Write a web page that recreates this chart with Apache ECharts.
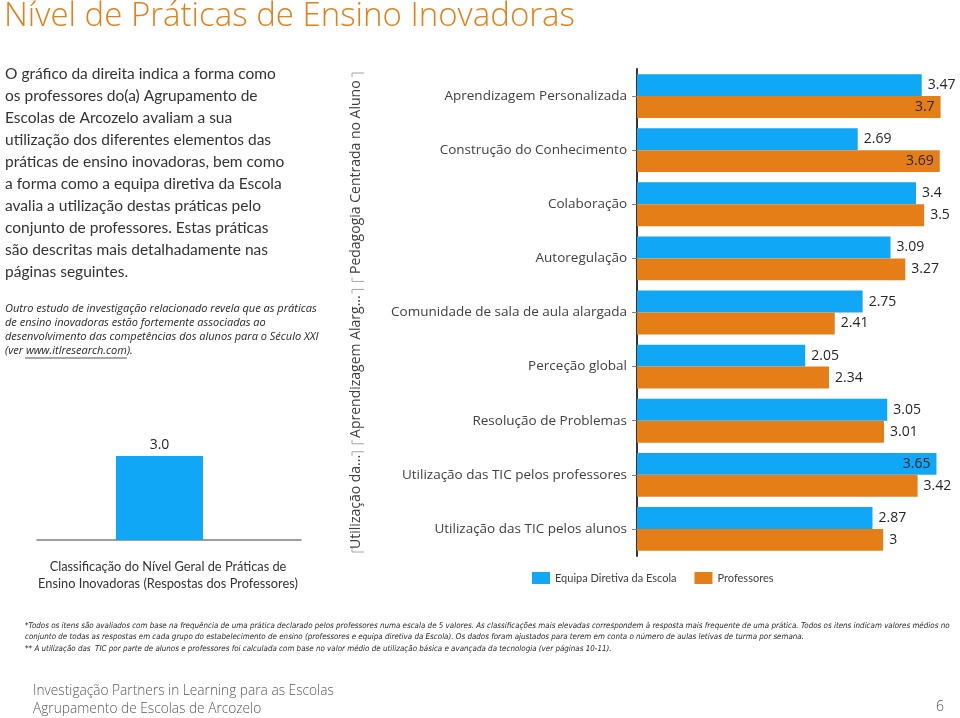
<!DOCTYPE html>
<html>
<head>
<meta charset="utf-8">
<script src="https://cdn.jsdelivr.net/npm/echarts@6/dist/echarts.min.js"></script>
<style>
html,body{margin:0;padding:0;background:#fff;}
#chart{width:960px;height:718px;}
</style>
</head>
<body>
<div id="chart"></div>
<script>
// ---- Data ----
const categories = [
  'Aprendizagem Personalizada',
  'Construção do Conhecimento',
  'Colaboração',
  'Autoregulação',
  'Comunidade de sala de aula alargada',
  'Perceção global',
  'Resolução de Problemas',
  'Utilização das TIC pelos professores',
  'Utilização das TIC pelos alunos'
];
const seriesNames = ['Equipa Diretiva da Escola', 'Professores'];
const equipaValues = [3.47, 2.69, 3.4, 3.09, 2.75, 2.05, 3.05, 3.65, 2.87];
const professoresValues = [3.7, 3.69, 3.5, 3.27, 2.41, 2.34, 3.01, 3.42, 3];
const groupNames = ['Pedagogia Centrada no Aluno', 'Aprendizagem Alarg...', 'Utilização da...'];
const groupFirst = [0, 4, 7];
const groupLast = [3, 6, 8];
const overallCategory = [''];
const overallValue = [3.0];

const BLUE = '#0FA7F6';
const ORANGE = '#E67E17';
const FONT = '"Open Sans", "Noto Sans", sans-serif';
const FONT2 = 'Lato, "Open Sans", sans-serif';

function items(arr) {
  return arr.map(v => ({
    value: v,
    label: { position: v > 3.55 ? 'insideRight' : 'right' }
  }));
}

const chart = echarts.init(document.getElementById('chart'), null, { renderer: 'canvas' });

const option = {
  animation: false,
  textStyle: { fontFamily: FONT },
  grid: [
    { left: 637, top: 69, width: 320, height: 487, containLabel: false },
    { left: 37, top: 400, width: 264, height: 140, containLabel: false }
  ],
  xAxis: [
    { gridIndex: 0, type: 'value', min: 0, max: 3.9, show: false },
    { gridIndex: 1, type: 'category', data: overallCategory,
      axisLine: { lineStyle: { color: '#808080', width: 1.5 } },
      axisTick: { show: false }, axisLabel: { show: false } }
  ],
  yAxis: [
    { gridIndex: 0, type: 'category', data: categories, inverse: true,
      axisLine: { lineStyle: { color: '#333333', width: 2 } },
      axisTick: { show: true, alignWithLabel: true, length: 5, lineStyle: { color: '#808080' } },
      axisLabel: { color: '#404040', fontSize: 13.5, margin: 10, fontFamily: FONT } },
    { gridIndex: 1, type: 'value', min: 0, max: 5, show: false }
  ],
  legend: {
    left: 527, top: 567,
    itemWidth: 18, itemHeight: 12, itemGap: 18,
    icon: 'rect',
    textStyle: { fontSize: 11, color: '#404040', fontFamily: FONT2 },
    data: seriesNames
  },
  series: [
    { name: seriesNames[0], type: 'bar', xAxisIndex: 0, yAxisIndex: 0,
      data: items(equipaValues), barGap: '0%', barCategoryGap: '19%',
      itemStyle: { color: BLUE },
      label: { show: true, color: '#262626', fontSize: 14, distance: 6, fontFamily: FONT } },
    { name: seriesNames[1], type: 'bar', xAxisIndex: 0, yAxisIndex: 0,
      data: items(professoresValues), barGap: '0%', barCategoryGap: '19%',
      itemStyle: { color: ORANGE },
      label: { show: true, color: '#262626', fontSize: 14, distance: 6, fontFamily: FONT } },
    { name: 'overall', type: 'bar', xAxisIndex: 1, yAxisIndex: 1,
      data: overallValue, barWidth: 87, barGap: '0%',
      itemStyle: { color: BLUE },
      label: { show: true, position: 'top', distance: 4, color: '#262626', fontSize: 14,
        fontFamily: FONT, formatter: p => p.value.toFixed(1) } },
    { name: 'spacer', type: 'bar', xAxisIndex: 1, yAxisIndex: 1,
      data: [null], barWidth: 19, barGap: '0%', silent: true,
      itemStyle: { color: 'transparent' } }
  ]
};
chart.setOption(option);

// ---- Text & group labels ----
const g = [];
g.push({ type: 'text', x: 4, y: 0, style: { text: 'Nível de Práticas de Ensino Inovadoras',
  font: '300 33px ' + FONT, fill: '#E3801C' } });
g.push({ type: 'text', x: 5, y: 63, style: {
  text: 'O gráfico da direita indica a forma como\nos professores do(a) Agrupamento de\nEscolas de Arcozelo avaliam a sua\nutilização dos diferentes elementos das\npráticas de ensino inovadoras, bem como\na forma como a equipa diretiva da Escola\navalia a utilização destas práticas pelo\nconjunto de professores. Estas práticas\nsão descritas mais detalhadamente nas\npáginas seguintes.',
  font: '15.5px ' + FONT2, fill: '#333333', lineHeight: 22 } });
g.push({ type: 'text', x: 5, y: 302, style: {
  text: 'Outro estudo de investigação relacionado revela que as práticas\nde ensino inovadoras estão fortemente associadas ao\ndesenvolvimento das competências dos alunos para o Século XXI\n(ver www.itlresearch.com).',
  font: 'italic 11px ' + FONT, fill: '#262626', lineHeight: 14 } });
g.push({ type: 'line', shape: { x1: 25, y1: 358, x2: 127, y2: 358 }, style: { stroke: '#262626', lineWidth: 0.8 } });
g.push({ type: 'text', x: 168, y: 558, style: {
  text: 'Classificação do Nível Geral de Práticas de\nEnsino Inovadoras (Respostas dos Professores)',
  font: '12.8px ' + FONT2, fill: '#333333', lineHeight: 17, align: 'center' } });
g.push({ type: 'text', x: 25, y: 620, style: {
  text: '*Todos os itens são avaliados com base na frequência de uma prática declarado pelos professores numa escala de 5 valores. As classificações mais elevadas correspondem à resposta mais frequente de uma prática. Todos os itens indicam valores médios no\nconjunto de todas as respostas em cada grupo do estabelecimento de ensino (professores e equipa diretiva da Escola). Os dados foram ajustados para terem em conta o número de aulas letivas de turma por semana.\n** A utilização das  TIC por parte de alunos e professores foi calculada com base no valor médio de utilização básica e avançada da tecnologia (ver páginas 10-11).',
  font: 'italic 7.95px "Liberation Sans Narrow", "DejaVu Sans Condensed", sans-serif', fill: '#262626', lineHeight: 11.5 } });
g.push({ type: 'text', x: 33, y: 682, style: {
  text: 'Investigação Partners in Learning para as Escolas\nAgrupamento de Escolas de Arcozelo',
  font: '300 13.7px ' + FONT, fill: '#595959', lineHeight: 18 } });
g.push({ type: 'text', x: 944, y: 700, style: { text: '6', font: '300 14px ' + FONT, fill: '#595959', align: 'right' } });

// group labels positioned by the category axis
const pitch = chart.convertToPixel({ yAxisIndex: 0 }, categories[1]) - chart.convertToPixel({ yAxisIndex: 0 }, categories[0]);
for (let i = 0; i < groupNames.length; i++) {
  const yTop = chart.convertToPixel({ yAxisIndex: 0 }, categories[groupFirst[i]]) - pitch / 2 + 4;
  const yBot = chart.convertToPixel({ yAxisIndex: 0 }, categories[groupLast[i]]) + pitch / 2 - 4;
  const yc = (yTop + yBot) / 2;
  g.push({ type: 'text', x: 356, y: yc, rotation: Math.PI / 2,
    style: { text: groupNames[i], font: '14px ' + FONT, fill: '#404040', align: 'center', verticalAlign: 'middle' } });
  g.push({ type: 'polyline', shape: { points: [[352, yTop + 4], [352, yTop], [364, yTop]] }, style: { stroke: '#A6A6A6', lineWidth: 1, fill: null } });
  g.push({ type: 'polyline', shape: { points: [[352, yBot - 4], [352, yBot], [364, yBot]] }, style: { stroke: '#A6A6A6', lineWidth: 1, fill: null } });
}
chart.setOption({ graphic: g });
</script>
</body>
</html>
